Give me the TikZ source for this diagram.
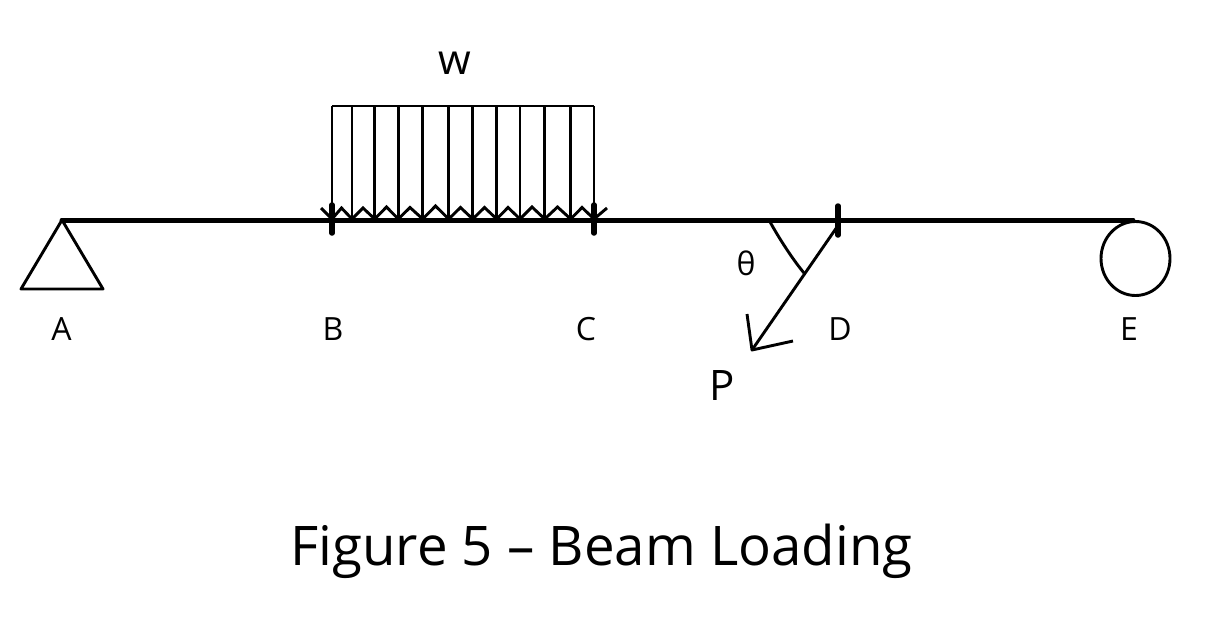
\documentclass[tikz,border=0pt]{standalone}
\usepackage{fontspec}
\setmainfont{Open Sans}
\usetikzlibrary{shapes.geometric}
\tikzset{
 x=1pt,y=-1pt,
 beam/.style={line width=5pt,line cap=round,black},
 tick/.style={line width=5.5pt,line cap=round,black},
 thin/.style={line width=2.9pt,black},
 load/.style={line width=2.9pt,black},
 zig/.style={line width=2.9pt,black,line join=miter},
 lab/.style={inner sep=0pt,font=\fontsize{32}{32}\selectfont,anchor=base},
}
\begin{document}
\begin{tikzpicture}
\useasboundingbox (0,0) rectangle (1223,616);
% points
\coordinate (a) at (62,220);
\coordinate (al) at (21,289);
\coordinate (ar) at (103,289);
\coordinate (e) at (1133,220);
\coordinate (b1) at (332,205); \coordinate (b2) at (332,233);
\coordinate (c1) at (594,205); \coordinate (c2) at (594,233);
\coordinate (d1) at (838,206); \coordinate (d2) at (838,235);
\coordinate (fs) at (837,227); \coordinate (ft) at (752,350);
\coordinate (bl) at (747,314); \coordinate (br) at (793,341);
\coordinate (t1) at (769,220); \coordinate (t2) at (804,273);
\coordinate (tl) at (332,106); \coordinate (tr) at (594,106);
% beam
\draw[beam] (a) -- (e);
\draw[tick] (b1) -- (b2);
\draw[tick] (c1) -- (c2);
\draw[tick] (d1) -- (d2);
% supports
\draw[thin,line join=round] (a) -- (al) -- (ar) -- cycle;
\node[ellipse,draw,line width=2.9pt,minimum width=69pt,minimum height=74pt,inner sep=0pt] (roller) at (1135.5,258.5) {};
% distributed load
\draw[load] (tl) -- (tr);
\foreach \n/\x in {0/332,1/352,2/374.7,3/398.3,4/422.7,5/448.7,6/472.7,7/496.7,8/520,9/544.7,10/570.7,11/594}{
  \coordinate (lt\n) at (\x,106);
  \coordinate (lb\n) at (\x,219);
  \draw[load] (lt\n) -- (lb\n);
}
\draw[zig] (321,208) -- (lb0) -- (341.5,208) -- (lb1) -- (363,208) -- (lb2) -- (386.5,207) -- (lb3) -- (410,207.5) -- (lb4) -- (435.5,206) -- (lb5) -- (460.5,207.5) -- (lb6) -- (484.5,207.5) -- (lb7) -- (508,207.5) -- (lb8) -- (532,207) -- (lb9) -- (557.5,207) -- (lb10) -- (582,207.5) -- (lb11) -- (607,208);
% force
\draw[thin] (fs) -- (ft);
\draw[thin,line join=round] (bl) -- (ft) -- (br);
\draw[thin] (t1) .. controls (776,233) and (790,256) .. (t2);
% labels
\node[lab] (A) at (61.5,340) {A};
\node[lab] (B) at (333,340) {B};
\node[lab] (C) at (586,340) {C};
\node[lab] (D) at (840,340) {D};
\node[lab] (E) at (1129,340) {E};
\node[lab] (th) at (746,275) {θ};
\node[lab,font=\fontsize{42}{42}\selectfont] (w) at (455,74) {w};
\node[lab,font=\fontsize{42}{42}\selectfont] (P) at (722,400) {P};
\node[lab,font=\fontsize{54.6}{54.6}\selectfont] (cap) at (601.5,565) {Figure 5 – Beam Loading};
\end{tikzpicture}
\end{document}
